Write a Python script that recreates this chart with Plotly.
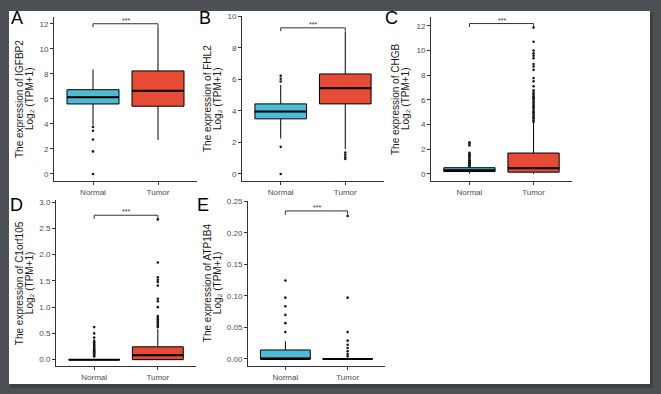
import plotly.graph_objects as go

W, H = 661, 394

categories = ["Normal", "Tumor"]
genes = ["IGFBP2", "FHL2", "CHGB", "C1orf105", "ATP1B4"]
panel_letters = ["A", "B", "C", "D", "E"]

# box statistics per gene: [Normal, Tumor]
q1 = {"IGFBP2": [5.59, 5.41], "FHL2": [3.50, 4.45], "CHGB": [0.19, 0.14],
      "C1orf105": [0.0, 0.0], "ATP1B4": [0.0, 0.0]}
median = {"IGFBP2": [6.12, 6.65], "FHL2": [3.96, 5.45], "CHGB": [0.30, 0.46],
          "C1orf105": [0.0, 0.085], "ATP1B4": [0.0, 0.0]}
q3 = {"IGFBP2": [6.73, 8.23], "FHL2": [4.45, 6.35], "CHGB": [0.50, 1.69],
      "C1orf105": [0.0, 0.245], "ATP1B4": [0.0142, 0.0]}
lower_whisker = {"IGFBP2": [3.88, 2.72], "FHL2": [2.25, 1.57], "CHGB": [0.02, 0.0],
                 "C1orf105": [0.0, 0.0], "ATP1B4": [0.0, 0.0]}
upper_whisker = {"IGFBP2": [8.36, 11.7], "FHL2": [5.66, 9.05], "CHGB": [0.60, 4.15],
                 "C1orf105": [0.0, 0.58], "ATP1B4": [0.028, 0.0]}

outliers = {
    "IGFBP2": [[3.75, 3.45, 2.75, 1.8, 0.0], []],
    "FHL2": [[5.87, 6.05, 6.23, 1.72, 0.0], [1.36, 1.22, 1.08, 0.95]],
    "CHGB": [[0.62, 0.7, 0.78, 0.85, 0.9, 0.95, 1.0, 1.05, 1.1, 1.2, 1.3, 1.4, 1.5,
              1.6, 1.7, 2.3, 2.45, 2.55],
             [4.2, 4.35, 4.5, 4.6, 4.75, 4.9, 5.0, 5.1, 5.25, 5.4, 5.5, 5.6, 5.75,
              5.85, 6.0, 6.1, 6.2, 6.3, 6.45, 6.6, 6.77, 7.1, 7.5, 7.76, 8.43, 8.7,
              8.9, 9.37, 9.58, 9.77, 10.0, 10.7, 11.85]],
    "C1orf105": [[0.06, 0.08, 0.1, 0.12, 0.14, 0.16, 0.18, 0.2, 0.22, 0.24, 0.26,
                  0.28, 0.3, 0.33, 0.36, 0.42, 0.5, 0.62],
                 [0.62, 0.65, 0.68, 0.71, 0.74, 0.77, 0.8, 0.83, 1.0, 1.11, 1.16,
                  1.41, 1.48, 1.52, 1.57, 1.85, 2.67]],
    "ATP1B4": [[0.0426, 0.0568, 0.0699, 0.0836, 0.0973, 0.1246],
               [0.0042, 0.0079, 0.0121, 0.0174, 0.0226, 0.029, 0.0426, 0.0973, 0.227]],
}

bracket_top = {"IGFBP2": 12.0, "FHL2": 9.28, "CHGB": 12.18, "C1orf105": 2.75, "ATP1B4": 0.235}
bracket_foot = {"IGFBP2": 11.72, "FHL2": 9.07, "CHGB": 11.9, "C1orf105": 2.68, "ATP1B4": 0.229}

y_ticks = {
    "IGFBP2": [0, 2, 4, 6, 8, 10, 12],
    "FHL2": [0, 2, 4, 6, 8, 10],
    "CHGB": [0, 2, 4, 6, 8, 10, 12],
    "C1orf105": [0.0, 0.5, 1.0, 1.5, 2.0, 2.5, 3.0],
    "ATP1B4": [0.0, 0.05, 0.10, 0.15, 0.20, 0.25],
}
y_tickformat = {"IGFBP2": "d", "FHL2": "d", "CHGB": "d", "C1orf105": ".1f", "ATP1B4": ".2f"}
y_range = {"IGFBP2": [-0.58, 12.55], "FHL2": [-0.46, 10.04], "CHGB": [-0.59, 12.72],
           "C1orf105": [-0.126, 3.04], "ATP1B4": [-0.0117, 0.2508]}

title_line1 = "The expression of "
title_line2 = "Log₂ (TPM+1)"
sig_label = "***"

# layout in pixels: (x0, x1, ytop, ybottom)
panel_px = {
    "IGFBP2": (54, 197, 13, 179),
    "FHL2": (242, 384, 12, 179),
    "CHGB": (431, 572, 13, 179),
    "C1orf105": (56, 196, 198, 366),
    "ATP1B4": (248, 385, 199, 366),
}
title_px = {  # x of line1, x of line2, y center
    "IGFBP2": (19, 29, 96),
    "FHL2": (207, 217, 96),
    "CHGB": (395, 405, 96),
    "C1orf105": (19, 29, 282),
    "ATP1B4": (207, 217, 282),
}
letter_px = {"IGFBP2": (17, 14), "FHL2": (205, 14), "CHGB": (391, 14),
             "C1orf105": (16, 203), "ATP1B4": (203, 203)}

colors = ["#4DBBD5", "#E64B35"]
FONT = "Liberation Sans, Arial, Helvetica, DejaVu Sans, sans-serif"
AX = "#333333"
BG = "#4c5054"


def fx(px):
    return px / W


def fy(py):
    return 1 - py / H


fig = go.Figure()
shapes = []
annotations = []

# page background + shadow
shapes.append(dict(type="rect", xref="paper", yref="paper", x0=fx(10), x1=fx(653),
                   y0=fy(8), y1=fy(388), fillcolor="#3d4044", line_width=0, layer="below"))
shapes.append(dict(type="rect", xref="paper", yref="paper", x0=fx(9), x1=fx(650),
                   y0=fy(7), y1=fy(384), fillcolor="white", line_width=0, layer="below"))

layout_axes = {}
for k, g in enumerate(genes):
    n = "" if k == 0 else str(k + 1)
    xa, ya = "x" + n, "y" + n
    x0, x1, yt, yb = panel_px[g]
    for i, cat in enumerate(categories):
        fig.add_trace(go.Box(
            x=[i], q1=[q1[g][i]], median=[median[g][i]], q3=[q3[g][i]],
            lowerfence=[lower_whisker[g][i]], upperfence=[upper_whisker[g][i]],
            fillcolor=colors[i], line=dict(color="black", width=1), width=0.8,
            whiskerwidth=0, boxpoints=False, showlegend=False, xaxis=xa, yaxis=ya,
            hoverinfo="skip"))
        if outliers[g][i]:
            fig.add_trace(go.Scatter(
                x=[i] * len(outliers[g][i]), y=outliers[g][i], mode="markers",
                marker=dict(color="#1a1a1a", size=2.6), showlegend=False,
                xaxis=xa, yaxis=ya, hoverinfo="skip"))
        shapes.append(dict(type="line", xref=xa, yref=ya, x0=i - 0.4, x1=i + 0.4,
                           y0=median[g][i], y1=median[g][i],
                           line=dict(color="black", width=2)))
    # significance bracket
    fig.add_trace(go.Scatter(
        x=[0, 0, 1, 1], y=[bracket_foot[g], bracket_top[g], bracket_top[g], bracket_foot[g]],
        mode="lines", line=dict(color=AX, width=1), showlegend=False,
        xaxis=xa, yaxis=ya, hoverinfo="skip"))
    annotations.append(dict(xref=xa, yref=ya, x=0.5, y=bracket_top[g], text=sig_label,
                            showarrow=False, yanchor="bottom", yshift=-2,
                            font=dict(size=7, color=AX, family=FONT)))
    layout_axes["xaxis" + n] = dict(
        domain=[fx(x0), fx(x1)], anchor=ya, range=[-0.6, 1.6],
        tickvals=[0, 1], ticktext=categories, showline=True, linecolor=AX, linewidth=1,
        ticks="outside", ticklen=3, tickcolor=AX, showgrid=False, zeroline=False,
        tickfont=dict(size=8, color="#4d4d4d", family=FONT), fixedrange=True)
    layout_axes["yaxis" + n] = dict(
        domain=[fy(yb), fy(yt)], anchor=xa, range=y_range[g],
        tickvals=y_ticks[g], tickformat=y_tickformat[g], showline=True, linecolor=AX,
        linewidth=1, ticks="outside", ticklen=3, tickcolor=AX, showgrid=False,
        zeroline=False, tickfont=dict(size=8, color="#4d4d4d", family=FONT),
        fixedrange=True)
    t1x, t2x, tyc = title_px[g]
    annotations.append(dict(xref="paper", yref="paper", x=fx(t1x), y=fy(tyc),
                            text=title_line1 + g, textangle=-90,
                            showarrow=False, xanchor="center", yanchor="middle",
                            font=dict(size=10, color="#1a1a1a", family=FONT)))
    annotations.append(dict(xref="paper", yref="paper", x=fx(t2x), y=fy(tyc),
                            text=title_line2, textangle=-90,
                            showarrow=False, xanchor="center", yanchor="middle",
                            font=dict(size=10, color="#1a1a1a", family=FONT)))
    lx, ly = letter_px[g]
    annotations.append(dict(xref="paper", yref="paper", x=fx(lx), y=fy(ly),
                            text=panel_letters[k], showarrow=False, xanchor="center",
                            yanchor="middle",
                            font=dict(size=18, color="black", family=FONT)))

fig.update_layout(
    width=W, height=H, margin=dict(l=0, r=0, t=0, b=0),
    paper_bgcolor=BG, plot_bgcolor="white",
    boxmode="overlay", shapes=shapes, annotations=annotations,
    showlegend=False, **layout_axes)

fig.write_html("out.html", config={"displayModeBar": False})

with open("out.html", "r", encoding="utf-8") as f:
    html = f.read()
html = html.replace(
    "<head>",
    "<head><style>html,body{margin:0;padding:0;overflow:hidden;background:" + BG + ";}</style>",
    1)
with open("out.html", "w", encoding="utf-8") as f:
    f.write(html)
